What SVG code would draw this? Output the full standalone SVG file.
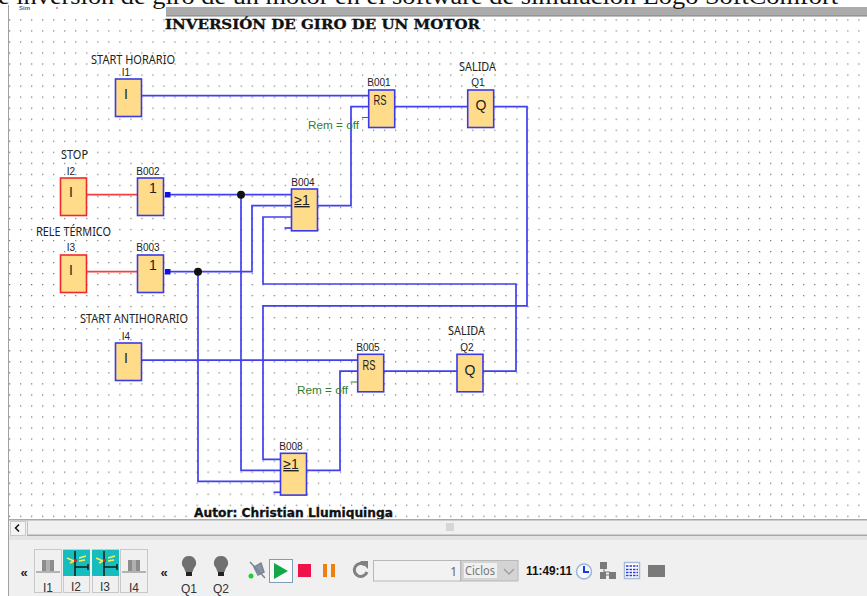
<svg xmlns="http://www.w3.org/2000/svg" width="867" height="596" viewBox="0 0 867 596">
<style>
.blk{fill:#ffdc8a;stroke:#3a3ae6;stroke-width:1.6}
.red{fill:#ffdc8a;stroke:#f02a2a;stroke-width:1.6}
.sym{font:14px "Liberation Sans",sans-serif;fill:#222;text-anchor:middle}
.id{font:10px "Liberation Sans",sans-serif;fill:#222;text-anchor:middle}
.lab{font:12px "Noto Sans","Liberation Sans",sans-serif;fill:#222}
.rem{font:10px "Liberation Sans",sans-serif;fill:#2f7d2f}
.w{fill:none;stroke:#4040f0;stroke-width:1.7}
.wr{fill:none;stroke:#f04040;stroke-width:1.7}
.wg{fill:none;stroke:#2f7d2f;stroke-width:1}
.ui{font:12px "Liberation Sans",sans-serif;fill:#333;text-anchor:middle}
.tile{fill:#f0f0f0;stroke:#c8c8c8;stroke-width:1}
</style>
<defs>
<pattern id="dots" x="9" y="8.3" width="11.03" height="11.03" patternUnits="userSpaceOnUse"><rect x="0" y="0" width="1.2" height="1.2" fill="#707070"/></pattern>
<g id="bulb"><path d="M0-11a7 7 0 0 1 5 12l-1.500 4h-7l-1.500-4a7 7 0 0 1 5-12z" fill="#707070"/><rect x="-3" y="5" width="6" height="4" fill="#222"/></g>
<g id="off"><rect x="-6" y="-6" width="12" height="11" fill="#8c8c8c"/><rect x="-2" y="-6" width="4" height="11" fill="#b0b0b0"/><path d="M-12 6H12" stroke="#777" stroke-width="1"/></g>
<g id="on"><rect x="-13" y="-19" width="27" height="26" fill="#17bdbd"/><path d="M-1-18V7M-1-2H12M12-5V1" stroke="#1a1a1a" stroke-width="1.500" fill="none"/><path d="M-9-11L-2-8M-6-6L-2-8M3-11L10-13M3-8L9-9" stroke="#f4f060" stroke-width="1.500" fill="none"/><rect x="-2" y="-10" width="3" height="3" fill="#d22"/></g>
</defs>
<rect width="867" height="596" fill="#fff"/>
<rect x="9" y="17" width="858" height="502" fill="url(#dots)"/>
<rect x="166" y="7" width="701" height="9" fill="#ababab"/>
<rect x="166" y="15.500" width="701" height="1" fill="#808080"/>
<rect x="8" y="5" width="1" height="591" fill="#a0a0a0"/>
<text x="-2" y="4" font-family="Liberation Serif,serif" font-size="23" fill="#111" textLength="840" lengthAdjust="spacingAndGlyphs">e inversión de giro de un motor en el software de simulación Logo SoftComfort</text>
<text x="19" y="10" font-family="Liberation Sans,sans-serif" font-size="6" font-weight="bold" fill="#666">Sim</text>
<rect x="56" y="7" width="2" height="2" fill="#f090a0"/>
<text x="165" y="29" font-family="DejaVu Serif,serif" font-size="13" font-weight="bold" fill="#111" stroke="#111" stroke-width="0.3" textLength="315" lengthAdjust="spacingAndGlyphs">INVERSIÓN DE GIRO DE UN MOTOR</text>
<text x="194" y="517" font-family="DejaVu Sans,sans-serif" font-size="11.500" font-weight="bold" fill="#111" stroke="#111" stroke-width="0.3" textLength="199" lengthAdjust="spacingAndGlyphs">Autor: Christian Llumiquinga</text>

<g id="connectors">
<path class="w" d="M141.500 95.700H368.700"/>
<path class="w" d="M318 205.700H351V106.700H368.700"/>
<path class="wg" d="M362 117.500H368.700"/>
<path class="w" d="M395 106.700H467.700"/>
<path class="w" d="M494 106.700H527V305.800H263V459.300H280.500"/>
<path class="w" d="M483 371.200H516V284H263V217H291.500"/>
<path class="wr" d="M87 194.700H137"/>
<path class="wr" d="M87 271.700H137"/>
<path class="w" d="M168 194.700H291.500"/>
<path class="w" d="M241 194.700V470.300H280.500"/>
<path class="w" d="M168 271.700H252V205.700H291.500"/>
<path class="w" d="M198 271.700V481.300H280.500"/>
<path class="w" d="M284.500 228H291.500"/>
<path class="w" d="M273.500 492.300H280.500"/>
<path class="w" d="M307 470.300H340V371.200H357.700"/>
<path class="w" d="M141.500 360.200H357.700"/>
<path class="wg" d="M350.500 382H357.700"/>
<path class="w" d="M384 371.200H457"/>
<rect x="165" y="192" width="5.500" height="5.500" fill="#1010e0"/>
<rect x="165" y="269" width="5.500" height="5.500" fill="#1010e0"/>
<circle cx="241" cy="194.700" r="4" fill="#111"/>
<circle cx="198" cy="271.700" r="4" fill="#111"/>
</g>

<g id="I1"><rect class="blk" x="115.500" y="79" width="26" height="37.500"/><text class="sym" x="126" y="99">I</text><text class="id" x="126" y="76">I1</text><text class="lab" x="91" y="64" textLength="84" lengthAdjust="spacingAndGlyphs">START HORARIO</text></g>
<g id="B001"><rect class="blk" x="368.700" y="90" width="26" height="37.500"/><text class="sym" x="380" y="105" textLength="13" lengthAdjust="spacingAndGlyphs">RS</text><text class="id" x="379" y="86">B001</text><text class="rem" x="308" y="129" textLength="51" lengthAdjust="spacingAndGlyphs">Rem = off</text></g>
<g id="Q1"><rect class="blk" x="467.700" y="90" width="26" height="37.500"/><text class="sym" x="481" y="110">Q</text><text class="id" x="478" y="86">Q1</text><text class="lab" x="459" y="71" textLength="37" lengthAdjust="spacingAndGlyphs">SALIDA</text></g>
<g id="I2"><rect class="red" x="60.500" y="178" width="26" height="37.500"/><text class="sym" x="71" y="197">I</text><text class="id" x="71" y="175">I2</text><text class="lab" x="61" y="159" textLength="27" lengthAdjust="spacingAndGlyphs">STOP</text></g>
<g id="B002"><rect class="blk" x="137.500" y="178" width="26" height="37.500"/><text class="sym" x="153" y="193">1</text><text class="id" x="148" y="175">B002</text></g>
<g id="B004"><rect class="blk" x="291.500" y="189" width="26" height="41.800"/><text class="sym" x="302" y="205" text-decoration="underline">≥1</text><text class="id" x="303" y="186">B004</text></g>
<g id="I3"><rect class="red" x="60.500" y="255" width="26" height="37.500"/><text class="sym" x="71" y="275">I</text><text class="id" x="71" y="251">I3</text><text class="lab" x="36" y="236" textLength="75" lengthAdjust="spacingAndGlyphs">RELE TÉRMICO</text></g>
<g id="B003"><rect class="blk" x="137.500" y="255" width="26" height="37.500"/><text class="sym" x="153" y="270">1</text><text class="id" x="148" y="251">B003</text></g>
<g id="I4"><rect class="blk" x="115.500" y="343" width="26" height="37.500"/><text class="sym" x="126" y="363">I</text><text class="id" x="126" y="340">I4</text><text class="lab" x="80" y="323" textLength="108" lengthAdjust="spacingAndGlyphs">START ANTIHORARIO</text></g>
<g id="B005"><rect class="blk" x="357.700" y="354.300" width="26" height="37.500"/><text class="sym" x="369" y="370" textLength="13" lengthAdjust="spacingAndGlyphs">RS</text><text class="id" x="368" y="351">B005</text><text class="rem" x="297" y="394" textLength="51" lengthAdjust="spacingAndGlyphs">Rem = off</text></g>
<g id="Q2"><rect class="blk" x="457" y="354.300" width="26" height="37.500"/><text class="sym" x="470" y="375">Q</text><text class="id" x="467" y="351">Q2</text><text class="lab" x="448" y="335" textLength="37" lengthAdjust="spacingAndGlyphs">SALIDA</text></g>
<g id="B008"><rect class="blk" x="280.500" y="453.300" width="26" height="41.800"/><text class="sym" x="291" y="469" text-decoration="underline">≥1</text><text class="id" x="291" y="450">B008</text></g>

<g id="toolbar">
<rect x="9" y="519" width="858" height="77" fill="#f0f0f0"/>
<rect x="9" y="519" width="858" height="1.500" fill="#a8a8a8"/>
<rect x="27" y="534.500" width="840" height="1.500" fill="#a8a8a8"/>
<rect x="27" y="521" width="1" height="14" fill="#c0c0c0"/>
<rect x="10.500" y="521.500" width="15" height="14" fill="#f4f4f4" stroke="#c8c8c8"/>
<path d="M19 524.500L15.500 528L19 531.500" fill="none" stroke="#111" stroke-width="1.500"/>
<path d="M447 523V531M449 523V531M451 523V531M453 523V531" stroke="#bdbdbd" stroke-width="1"/>
<rect x="9" y="536" width="858" height="4" fill="#e4e4e4"/>
<text x="24" y="577" font-family="Liberation Sans,sans-serif" font-size="13" font-weight="bold" fill="#222" text-anchor="middle">«</text>
<rect class="tile" x="34.500" y="549.500" width="27" height="43"/>
<use href="#off" x="48" y="566"/><text class="ui" x="48" y="592">I1</text>
<rect class="tile" x="63.500" y="549.500" width="26" height="43"/>
<use href="#on" x="76" y="569"/><text class="ui" x="76" y="591">I2</text>
<rect class="tile" x="92.500" y="549.500" width="26" height="43"/>
<use href="#on" x="105" y="569"/><text class="ui" x="105" y="591">I3</text>
<rect class="tile" x="120.500" y="549.500" width="27" height="43"/>
<use href="#off" x="134" y="566"/><text class="ui" x="134" y="592">I4</text>
<text x="164" y="577" font-family="Liberation Sans,sans-serif" font-size="13" font-weight="bold" fill="#222" text-anchor="middle">«</text>
<use href="#bulb" x="189" y="567"/><text class="ui" x="189" y="593">Q1</text>
<use href="#bulb" x="221" y="567"/><text class="ui" x="221" y="593">Q2</text>
<path d="M250 562L265 578M254 567L261 563L264 572L258 575Z" fill="#8a94a4" stroke="#7a8494" stroke-width="1.500"/>
<circle cx="251" cy="576" r="2.500" fill="#22cc33"/>
<rect x="269.500" y="559.500" width="23" height="23" fill="#fafafa" stroke="#7f9db9"/>
<path d="M274 563L288 571L274 579Z" fill="#12a84a"/>
<rect x="298" y="564" width="13" height="13" fill="#f0104a"/>
<rect x="323" y="564" width="4" height="13" fill="#f08010"/><rect x="331" y="564" width="4" height="13" fill="#f08010"/>
<path d="M365 565A6.500 6.500 0 1 0 367 572" fill="none" stroke="#808080" stroke-width="3"/><path d="M360 561H368V569Z" fill="#808080"/>
<rect x="373.500" y="560.500" width="87" height="20.500" fill="#f2f2f2" stroke="#b8b8b8"/>
<text x="457" y="576" font-family="Noto Sans,sans-serif" font-size="12" fill="#666" text-anchor="end">1</text>
<rect x="461" y="560.500" width="57" height="20.500" fill="#d4d4d4" stroke="#b8b8b8"/>
<rect x="464" y="563" width="33" height="15" fill="#f0f0f0"/>
<text x="480" y="575" font-family="Noto Sans,sans-serif" font-size="12" fill="#777" text-anchor="middle" textLength="30" lengthAdjust="spacingAndGlyphs">Ciclos</text>
<path d="M504 569L509 574L514 569" fill="none" stroke="#a0a0a0" stroke-width="1.500"/>
<text x="526" y="575" font-family="Liberation Sans,sans-serif" font-size="12" font-weight="bold" fill="#111" textLength="46" lengthAdjust="spacingAndGlyphs">11:49:11</text>
<circle cx="584" cy="571.500" r="7.500" fill="#f4f8ff" stroke="#9db4d8" stroke-width="1.500"/>
<path d="M584 566V572H589" fill="none" stroke="#1a3adf" stroke-width="2"/>
<path d="M604 569V575H615M604 572H610" fill="none" stroke="#777"/>
<rect x="600" y="562" width="7" height="7" fill="#7a7a7a"/><rect x="600" y="572" width="6" height="7" fill="#7a7a7a"/><rect x="609" y="572" width="7" height="7" fill="#7a7a7a"/>
<rect x="624.500" y="562.500" width="15" height="16" fill="#fff" stroke="#a8bcd8" stroke-width="1.500"/>
<path d="M626 566H638M626 569.500H638M626 572.500H638M626 575.500H638" stroke="#2a3ae0" stroke-width="1.500" stroke-dasharray="2.500 1"/>
<rect x="648" y="565" width="17" height="12" fill="#7a7a7a"/>
</g>
</svg>
